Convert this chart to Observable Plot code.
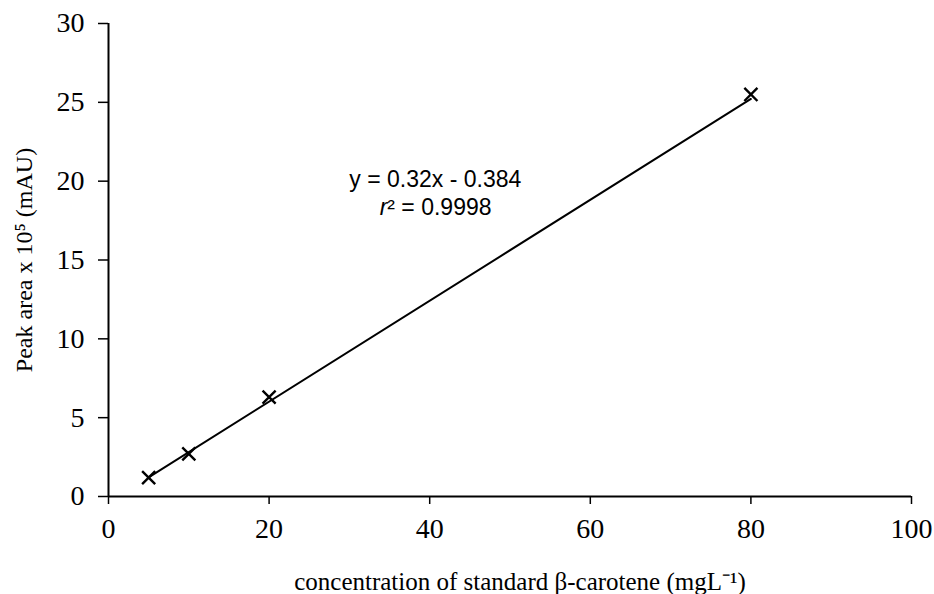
<!DOCTYPE html>
<html>
<head>
<meta charset="utf-8">
<script src="https://cdn.jsdelivr.net/npm/d3@7"></script>
<script src="https://cdn.jsdelivr.net/npm/@observablehq/plot@0.6"></script>
<style>
  body { margin: 0; background: #fff; }
</style>
</head>
<body>
<div id="chart"></div>
<script>
// Calibration of standard β-carotene: concentration (mg/L) vs HPLC peak area (×10^5 mAU)
const concentration = [5, 10, 20, 80];
const peakArea = [1.2, 2.7, 6.3, 25.5];

const xTicks = [0, 20, 40, 60, 80, 100];
const yTicks = [0, 5, 10, 15, 20, 25, 30];

// Fitted regression reported on the chart
const slope = 0.32;
const intercept = -0.384;
const rSquared = 0.9998;

const xLabel = "concentration of standard β-carotene (mgL⁻¹)";
const yLabel = "Peak area x 10⁵ (mAU)";

const points = concentration.map((c, i) => ({c, area: peakArea[i]}));
const fitEnds = d3.extent(concentration).map(c => ({c, area: slope * c + intercept}));

const serif = "'Liberation Serif', 'Times New Roman', serif";
const sans = "'Liberation Sans', Arial, sans-serif";

const chart = Plot.plot({
  width: 934,
  height: 594,
  marginLeft: 108,
  marginRight: 23,
  marginTop: 23,
  marginBottom: 98,
  style: {fontFamily: serif, fontSize: "28px", color: "#000", background: "#fff"},
  x: {domain: [0, 100]},
  y: {domain: [0, 30]},
  marks: [
    Plot.axisX({ticks: xTicks, tickSize: 8, tickPadding: 14, fontSize: 28, fontFamily: serif, label: null, strokeWidth: 1.5}),
    Plot.axisY({ticks: yTicks, tickSize: 10, tickPadding: 14, fontSize: 28, fontFamily: serif, label: null, strokeWidth: 1.5}),
    Plot.ruleX([0], {stroke: "#000", strokeWidth: 2}),
    Plot.ruleY([0], {stroke: "#000", strokeWidth: 2}),
    // regression line
    Plot.line(fitEnds, {x: "c", y: "area", stroke: "#000", strokeWidth: 2}),
    // standards
    Plot.dot(points, {x: "c", y: "area", symbol: "times", r: 6, stroke: "#000", strokeWidth: 2.4}),
    // equation annotation
    Plot.text([`y = ${slope}x - ${Math.abs(intercept)}`], {
      x: 40.7, y: 20.1, fontFamily: sans, fontSize: 23, lineAnchor: "middle"
    }),
    Plot.text(["r"], {
      x: 40.7, y: 18.3, dx: -48, fontFamily: sans, fontSize: 23, fontStyle: "italic",
      textAnchor: "end", lineAnchor: "middle"
    }),
    Plot.text([`² = ${rSquared}`], {
      x: 40.7, y: 18.3, dx: -48, fontFamily: sans, fontSize: 23,
      textAnchor: "start", lineAnchor: "middle"
    }),
    // axis titles
    Plot.text([yLabel], {
      frameAnchor: "left", textAnchor: "middle", lineAnchor: "middle",
      rotate: -90, dx: -84, fontFamily: serif, fontSize: 24
    }),
    Plot.text([xLabel], {
      frameAnchor: "bottom", textAnchor: "middle", lineAnchor: "middle",
      dx: 10, dy: 85, fontFamily: serif, fontSize: 25, letterSpacing: "-0.6px"
    })
  ]
});

document.getElementById("chart").appendChild(chart);
</script>
</body>
</html>
